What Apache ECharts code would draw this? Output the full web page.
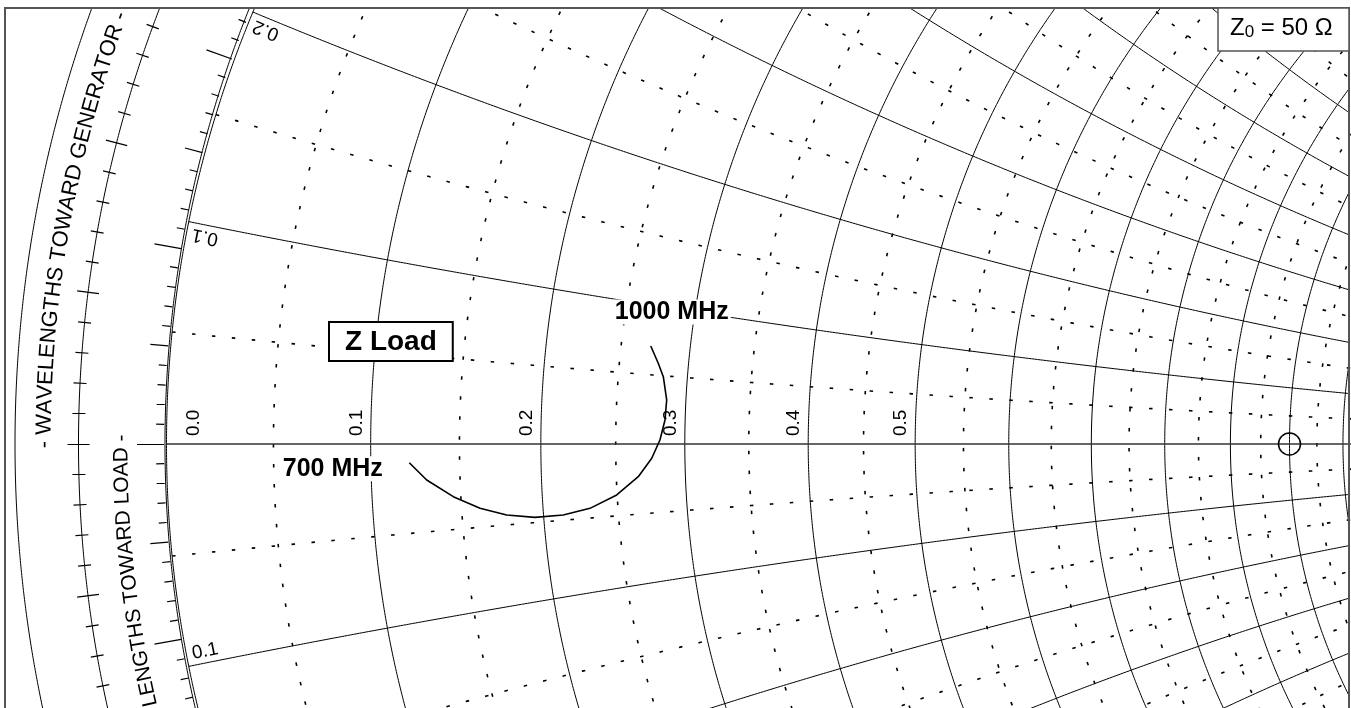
<!DOCTYPE html>
<html>
<head>
<meta charset="utf-8">
<title>Smith chart – Z Load</title>
<script src="https://cdn.jsdelivr.net/npm/echarts/dist/echarts.min.js"></script>
<style>
html, body { margin: 0; padding: 0; background: #fff; }
#chart { width: 1351px; height: 708px; }
</style>
</head>
<body>
<div id="chart"></div>
<script>
// ---- data -------------------------------------------------------------
// Load reflection coefficient (re / im), swept from 700 MHz to 1000 MHz
const loadGammaRe = [-0.7838, -0.7683, -0.7446, -0.7208, -0.6971, -0.6719, -0.6467, -0.6229, -0.5991,
                     -0.5799, -0.5679, -0.5606, -0.5561, -0.5546, -0.5576, -0.5621, -0.5688];
const loadGammaIm = [-0.0167, -0.0321, -0.0469, -0.0573, -0.0632, -0.0653, -0.0632, -0.0573, -0.0454,
                     -0.0291, -0.0127, 0.0036, 0.0214, 0.0392, 0.0599, 0.0719, 0.0873];
const loadEndLabels = ['700 MHz', '1000 MHz'];

// Normalized resistance / reactance circles
const resistanceMajor = [0, 0.1, 0.2, 0.3, 0.4, 0.5, 0.6, 0.7, 0.8, 0.9, 1.0, 1.1, 1.2];
const resistanceMinor = [0.05, 0.15, 0.25, 0.35, 0.45, 0.55, 0.65, 0.75, 0.85, 0.95, 1.05, 1.15];
const reactanceMajor = [0.1, 0.2, 0.3, 0.4, 0.5, 0.6, 0.7, 0.8, 0.9, 1.0];
const reactanceMinor = [0.05, 0.15, 0.25, 0.35, 0.45, 0.55, 0.65, 0.75, 0.85, 0.95];

// Scale labels
const resistanceLabelValues = [0.0, 0.1, 0.2, 0.3, 0.4, 0.5];
const resistanceLabels = ['0.0', '0.1', '0.2', '0.3', '0.4', '0.5'];
const reactanceLabelValues = [0.1, 0.2, -0.1];
const reactanceLabels = ['0.1', '0.2', '0.1'];
const towardGenerator = '- WAVELENGTHS TOWARD GENERATOR -';
const towardLoad = '- WAVELENGTHS TOWARD LOAD -';
const impedanceNote = '{m|Z}{s|0}{m| = 50 Ω}';
const loadNote = 'Z Load';

// ---- layout -----------------------------------------------------------
const FONT = '"Liberation Sans", Arial, Helvetica, sans-serif';
const CX = 1289.5, CY = 444, RU = 1123;          // chart centre and unit radius, px
const VIEW = { left: 5, top: 8, right: 1349, bottom: 708 };
const px = v => v / RU;                           // pixels -> reflection-coefficient units
const DEG = Math.PI / 180;

const measureCtx = document.createElement('canvas').getContext('2d');
function textWidth(str, font) { measureCtx.font = font; return measureCtx.measureText(str).width; }

function circlePath(cx, cy, rad, a0, a1) {
  const n = Math.max(24, Math.ceil(Math.abs(a1 - a0) * rad * RU / 3));
  const pts = [];
  for (let i = 0; i <= n; i++) {
    const a = a0 + (a1 - a0) * i / n;
    pts.push([cx + rad * Math.cos(a), cy + rad * Math.sin(a)]);
  }
  return pts;
}
function resistancePath(r) { return circlePath(r / (1 + r), 0, 1 / (1 + r), 0, 2 * Math.PI); }
function reactanceEnd(x) {
  const ax = Math.abs(x);
  return [(ax * ax - 1) / (ax * ax + 1), Math.sign(x) * 2 * ax / (ax * ax + 1)];
}
function reactancePath(x) {
  const ax = Math.abs(x), s = Math.sign(x);
  const e = reactanceEnd(ax);
  let t0 = Math.atan2(e[1] - 1 / ax, e[0] - 1);
  if (t0 < Math.PI / 2) t0 += 2 * Math.PI;
  return circlePath(1, 1 / ax, 1 / ax, t0, 1.5 * Math.PI).map(p => [p[0], s * p[1]]);
}

// grid paths
const solidPaths = [];
resistanceMajor.forEach(r => solidPaths.push(resistancePath(r)));
reactanceMajor.forEach(x => { solidPaths.push(reactancePath(x)); solidPaths.push(reactancePath(-x)); });
// second rim line just outside the r = 0 circle
solidPaths.push(circlePath(0.04 - px(1.5), 0, 1.04, 140 * DEG, 220 * DEG));
// wavelength rings
solidPaths.push(circlePath(0, 0, px(1211), 140 * DEG, 220 * DEG));
solidPaths.push(circlePath(0, 0, px(1274.5), 140 * DEG, 220 * DEG));

const dottedPaths = [];
resistanceMinor.forEach(r => dottedPaths.push(resistancePath(r)));
reactanceMinor.forEach(x => { dottedPaths.push(reactancePath(x)); dottedPaths.push(reactancePath(-x)); });

// rim ticks: angle of reflection coefficient, 1 degree steps
const tickPaths = [];
for (let k = -40; k <= 40; k++) {
  const a = (180 + k) * DEG;
  const len = k % 10 === 0 ? 27 : (k % 5 === 0 ? 18 : 8);
  const r0 = 1 + px(2.5), r1 = r0 + px(len);
  tickPaths.push([[r0 * Math.cos(a), r0 * Math.sin(a)], [r1 * Math.cos(a), r1 * Math.sin(a)]]);
}
// wavelength ticks: 0.002 lambda steps (1.44 degrees)
for (let j = -40; j <= 40; j++) {
  const a = (180 + j * 1.44) * DEG;
  const half = j % 5 === 0 ? 11 : 6.5;
  const r0 = px(1211 - half), r1 = px(1211 + half);
  tickPaths.push([[r0 * Math.cos(a), r0 * Math.sin(a)], [r1 * Math.cos(a), r1 * Math.sin(a)]]);
}

// curved captions, one label per character
function arcText(str, radiusPx, startDeg, fontSize) {
  const font = fontSize + 'px ' + FONT;
  const items = [];
  let s = 0;
  for (const ch of str) {
    const w = textWidth(ch, font);
    const th = startDeg - (s + w / 2) / radiusPx / DEG;
    const rr = px(radiusPx);
    items.push({ name: ch, value: [rr * Math.cos(th * DEG), rr * Math.sin(th * DEG)],
                 label: { rotate: th - 90, fontSize } });
    s += w;
  }
  return items;
}
const GEN_FONT_SIZE = 22, LOAD_FONT_SIZE = 21;
const LOAD_R = 1168;
const loadSpanDeg = textWidth(towardLoad, LOAD_FONT_SIZE + 'px ' + FONT) / LOAD_R / DEG;
const arcItems = arcText(towardGenerator, 1245, 180.2, GEN_FONT_SIZE)
  .concat(arcText(towardLoad, LOAD_R, 179.7 + loadSpanDeg, LOAD_FONT_SIZE));

// resistance labels on the real axis
const AXIS_FONT_SIZE = 19;
const axisFont = AXIS_FONT_SIZE + 'px ' + FONT;
const resistanceItems = resistanceLabelValues.map((r, i) => {
  const g = (r - 1) / (r + 1);
  const w = textWidth(resistanceLabels[i], axisFont);
  const dx = r === 0 ? 27 : -14;
  return { name: resistanceLabels[i], value: [g + px(dx), px(8 + w / 2)], label: { rotate: 90 } };
});
// reactance labels at the rim
const reactanceItems = reactanceLabelValues.map((x, i) => {
  const e = reactanceEnd(x);
  let vx = e[0] - 1, vy = e[1] - 1 / x;
  const vl = Math.hypot(vx, vy); vx /= vl; vy /= vl;
  let tx = -vy, ty = vx;
  if (tx < 0) { tx = -tx; ty = -ty; }
  const along = px(19), off = px(11.5);
  const ang = Math.atan2(ty, tx) / DEG;
  return {
    name: reactanceLabels[i],
    value: [e[0] + tx * along + vx * off, e[1] + ty * along + vy * off],
    label: { rotate: x > 0 ? 180 + ang : ang }
  };
});

const loadData = loadGammaRe.map((re, i) => [re, loadGammaIm[i]]);
const last = loadData.length - 1;
const endItems = [
  { name: loadEndLabels[0], value: loadData[0], label: { position: 'left', distance: 24, offset: [0, 6] } },
  { name: loadEndLabels[1], value: loadData[last], label: { position: 'top', distance: 21, offset: [21, 0] } }
];

// ---- chart ------------------------------------------------------------
const chart = echarts.init(document.getElementById('chart'), null, { renderer: 'canvas' });
const labelBase = { show: true, formatter: '{b}', color: '#000', fontFamily: FONT, opacity: 1, textBorderWidth: 0 };
const textSeries = (name, data, fontSize, extra) => Object.assign({
  name, type: 'scatter', data, symbolSize: 1, silent: true, animation: false, z: 6,
  itemStyle: { color: 'rgba(0,0,0,0)', opacity: 1 },
  label: Object.assign({}, labelBase, { position: 'inside', fontSize })
}, extra || {});

chart.setOption({
  backgroundColor: '#fff',
  animation: false,
  grid: { left: VIEW.left, top: VIEW.top, width: VIEW.right - VIEW.left, height: VIEW.bottom - VIEW.top },
  xAxis: { type: 'value', show: false, min: px(VIEW.left - CX), max: px(VIEW.right - CX) },
  yAxis: { type: 'value', show: false, min: px(CY - VIEW.bottom), max: px(CY - VIEW.top) },
  series: [
    { name: 'minor grid', type: 'lines', coordinateSystem: 'cartesian2d', polyline: true, silent: true, clip: true, z: 1,
      lineStyle: { color: '#000', width: 1.6, opacity: 1, type: [3.5, 16.5] },
      data: dottedPaths.map(c => ({ coords: c })) },
    { name: 'major grid', type: 'lines', coordinateSystem: 'cartesian2d', polyline: true, silent: true, clip: true, z: 2,
      lineStyle: { color: '#000', width: 1, opacity: 1 },
      data: solidPaths.map(c => ({ coords: c })) },
    { name: 'ticks', type: 'lines', coordinateSystem: 'cartesian2d', silent: true, clip: true, z: 2,
      lineStyle: { color: '#000', width: 1.2, opacity: 1 },
      data: tickPaths.map(c => ({ coords: c })) },
    { name: 'real axis', type: 'lines', coordinateSystem: 'cartesian2d', silent: true, clip: true, z: 3,
      lineStyle: { color: '#333', width: 1.5, opacity: 1 },
      data: [{ coords: [[-1, 0], [1, 0]] }] },
    { name: 'Z Load', type: 'line', data: loadData, showSymbol: false, smooth: false, z: 5, silent: true,
      lineStyle: { color: '#000', width: 1.6 } },
    { name: 'centre', type: 'scatter', data: [[0, 0]], symbol: 'circle', symbolSize: 22, silent: true, z: 5,
      itemStyle: { color: 'rgba(0,0,0,0)', borderColor: '#000', borderWidth: 1.5, opacity: 1 } },
    textSeries('arc captions', arcItems, GEN_FONT_SIZE),
    textSeries('resistance labels', resistanceItems, AXIS_FONT_SIZE),
    textSeries('reactance labels', reactanceItems, AXIS_FONT_SIZE),
    textSeries('sweep ends', endItems, 25, {
      z: 7,
      label: Object.assign({}, labelBase, { fontSize: 25, fontWeight: 'bold', backgroundColor: '#fff', padding: [0, 2] })
    })
  ],
  graphic: [
    { type: 'polyline', silent: true, z: 10,
      shape: { points: [[VIEW.left, 720], [VIEW.left, VIEW.top], [VIEW.right, VIEW.top], [VIEW.right, 720]] },
      style: { stroke: '#555', lineWidth: 2, fill: null } },
    { type: 'rect', silent: true, z: 11, shape: { x: 1218, y: VIEW.top, width: VIEW.right - 1218, height: 43 },
      style: { fill: '#fff', stroke: '#555', lineWidth: 1.5 } },
    { type: 'text', silent: true, z: 12, x: 1230, y: 15,
      style: { text: impedanceNote, fill: '#000',
               rich: { m: { fontFamily: FONT, fontSize: 24, lineHeight: 26, fill: '#000' },
                       s: { fontFamily: FONT, fontSize: 17, lineHeight: 17, verticalAlign: 'bottom', fill: '#000' } } } },
    { type: 'text', silent: true, z: 12, x: 330, y: 323,
      style: { text: loadNote, font: 'bold 28px ' + FONT, fill: '#000', backgroundColor: '#fff',
               borderColor: '#000', borderWidth: 2, padding: [5, 15, 4, 15] } }
  ]
});
</script>
</body>
</html>
